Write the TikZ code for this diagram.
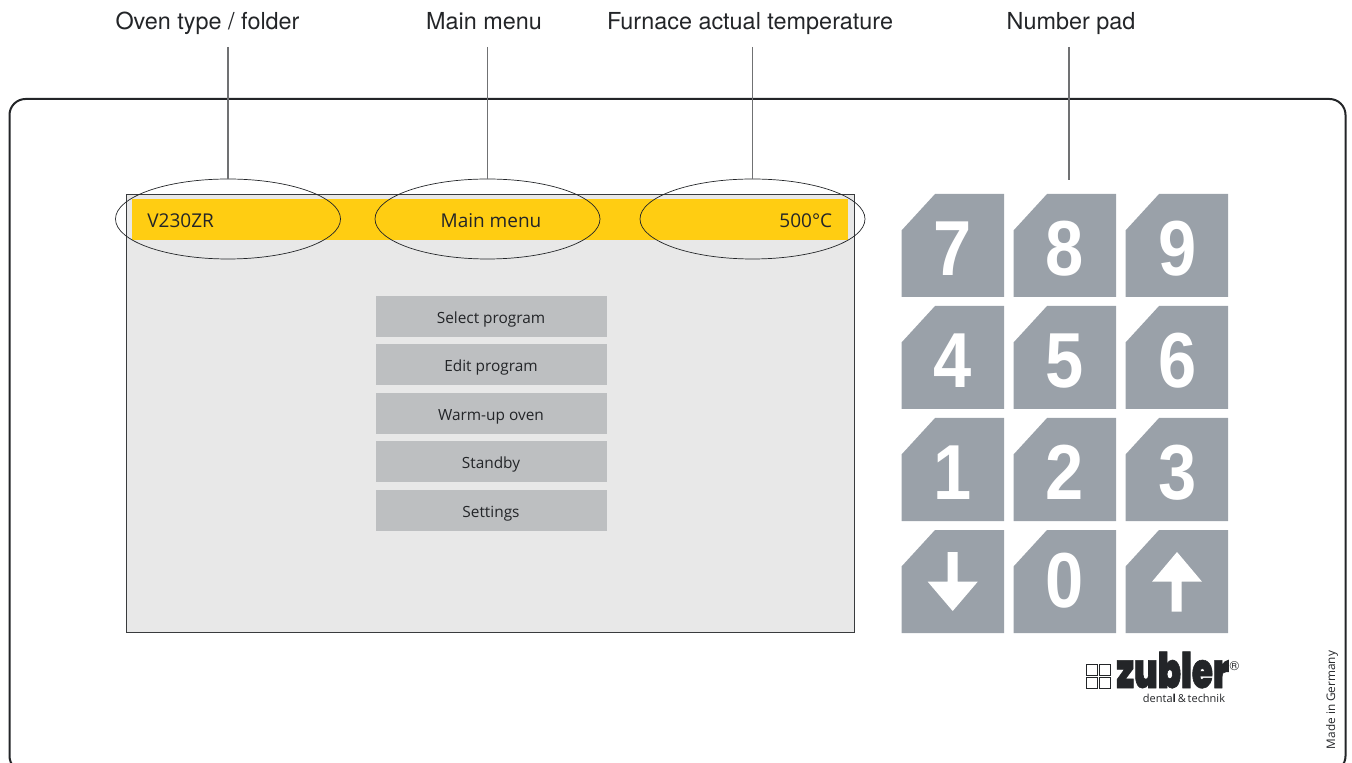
\documentclass[tikz,border=0pt]{standalone}
\usepackage{fontspec}
\setmainfont{Liberation Sans}
\newfontfamily\lab{TeX Gyre Heros}
\newfontfamily\scr{Open Sans}
\newfontfamily\dig{Liberation Sans}[UprightFont=* Bold,FakeStretch=0.88]
\newfontfamily\zub{Poppins}[UprightFont=* Black,FakeStretch=0.695,UprightFeatures={FakeBold=1.2}]
\usetikzlibrary{shapes.geometric}
\definecolor{keygrey}{HTML}{9AA1A9}
\definecolor{barY}{HTML}{FFCD12}
\definecolor{btn}{HTML}{BDBFC1}
\definecolor{scrbg}{HTML}{E8E8E8}
\definecolor{ink}{HTML}{232528}
\tikzset{
  calloutlabel/.style={font=\lab\fontsize{11.7}{13}\selectfont,text=ink,inner sep=0pt,anchor=base},
  leader/.style={draw=ink!65,line width=0.6pt},
  ring/.style={draw=ink,line width=0.35pt,ellipse,minimum width=112.5pt,minimum height=40pt,inner sep=0pt},
  menubtn/.style={fill=btn,minimum width=115.5pt,minimum height=20.5pt,inner sep=0pt,text height=7pt,text depth=0pt,font=\scr\fontsize{7.7}{10}\selectfont,text=ink},
  bartext/.style={font=\scr\fontsize{9.5}{11}\selectfont,text=ink,inner sep=0pt},
  keyshape/.style={fill=keygrey,draw=none},
  keydigit/.style={font=\dig\fontsize{39}{40}\selectfont,text=white,inner sep=0pt,anchor=base},
}
\newcommand{\keyat}[2]{\fill[keyshape] (#1,#2+36.5) -- (#1+33.5,#2) -- (#1+102.5,#2) -- (#1+102.5,#2+103) -- (#1,#2+103) -- cycle;}
\begin{document}
\begin{tikzpicture}[x=0.5pt,y=-0.5pt]
\path[use as bounding box] (0,0) rectangle (1352,763);
\begin{scope}
\clip (0,0) rectangle (1352,763);
\draw[ink,line width=1pt,rounded corners=8pt] (9.5,99) rectangle (1345.5,772);
\end{scope}
% screen
\node[draw=ink!90,line width=0.5pt,fill=scrbg,minimum width=364pt,minimum height=218.8pt,inner sep=0pt] (screen) at (490,413.2) {};
\node[fill=barY,minimum width=358pt,minimum height=20.5pt,inner sep=0pt] (bar) at (490,219.5) {};
\node[bartext,anchor=base west] (vtxt) at (147,228) {V230ZR};
\node[bartext,anchor=base] (mtxt) at (491,228) {Main menu};
\node[bartext,anchor=base east] (ttxt) at (832.5,228) {500°C};
\node[menubtn] (b1) at (491,316.5) {Select program};
\node[menubtn] (b2) at (491,364.5) {Edit program};
\node[menubtn] (b3) at (491,413.5) {Warm-up oven};
\node[menubtn] (b4) at (491,461.5) {Standby};
\node[menubtn] (b5) at (491,510.5) {Settings};
% rings
\node[ring] (r1) at (228,219) {};
\node[ring] (r2) at (487.5,219) {};
\node[ring] (r3) at (752.5,219) {};
% labels
\node[calloutlabel] (l1) at (207.5,30) {Oven type / folder};
\node[calloutlabel] (l2) at (484,30) {Main menu};
\node[calloutlabel] (l3) at (750,30) {Furnace actual temperature};
\node[calloutlabel] (l4) at (1071,30) {Number pad};
\coordinate (top) at (0,47);
\coordinate (padend) at (1069,180);
\draw[leader] (r1.north |- top) -- (r1.north);
\draw[leader] (r2.north |- top) -- (r2.north);
\draw[leader] (r3.north |- top) -- (r3.north);
\draw[leader] (padend |- top) -- (padend);
% keys
\keyat{901.5}{194}\keyat{1013.5}{194}\keyat{1125.5}{194}
\keyat{901.5}{306}\keyat{1013.5}{306}\keyat{1125.5}{306}
\keyat{901.5}{418}\keyat{1013.5}{418}\keyat{1125.5}{418}
\keyat{901.5}{530}\keyat{1013.5}{530}\keyat{1125.5}{530}
\node[keydigit] (k7) at (953,275.7) {7};
\node[keydigit] (k8) at (1065,276) {8};
\node[keydigit] (k9) at (1177.5,276) {9};
\node[keydigit] (k4) at (953,387.5) {4};
\node[keydigit] (k5) at (1065,387.5) {5};
\node[keydigit] (k6) at (1177.5,387.5) {6};
\node[keydigit] (k1) at (953,499.5) {1};
\node[keydigit] (k2) at (1065,499.5) {2};
\node[keydigit] (k3) at (1177.5,499.5) {3};
\node[keydigit] (k0) at (1065,607.5) {0};
\fill[white] (947.7,552) -- (957.7,552) -- (957.7,581.7) -- (977.7,581.7) -- (952.7,611) -- (927.7,581.7) -- (947.7,581.7) -- cycle;
\fill[white] (1171.7,611.7) -- (1181.7,611.7) -- (1181.7,581.7) -- (1202,581.7) -- (1177,552) -- (1152,581.7) -- (1171.7,581.7) -- cycle;
% logo
\foreach \a/\b in {1086/664,1099/664,1086/677,1099/677}
  \draw[ink,line width=0.4pt] (\a,\b) rectangle ++(11,11);
\node[inner sep=0pt,anchor=base west,text=ink,text depth=0pt] (zub) at (1116,688) {\zub\fontsize{24.5}{26}\selectfont zubler};
\node[inner sep=0pt,text=ink,font=\lab\fontsize{6.5}{7}\selectfont] (reg) at (1234.5,666.5) {®};
\node[inner sep=0pt,text=ink,font=\scr\fontsize{5.5}{6}\selectfont] (dt) at (1184,698.5) {denta\textbf{l}\,\&\,technik};
\node[inner sep=0pt,rotate=90,text=ink,font=\scr\fontsize{5.9}{7}\selectfont] (made) at (1332,700) {Made in Germany};
\end{tikzpicture}
\end{document}
